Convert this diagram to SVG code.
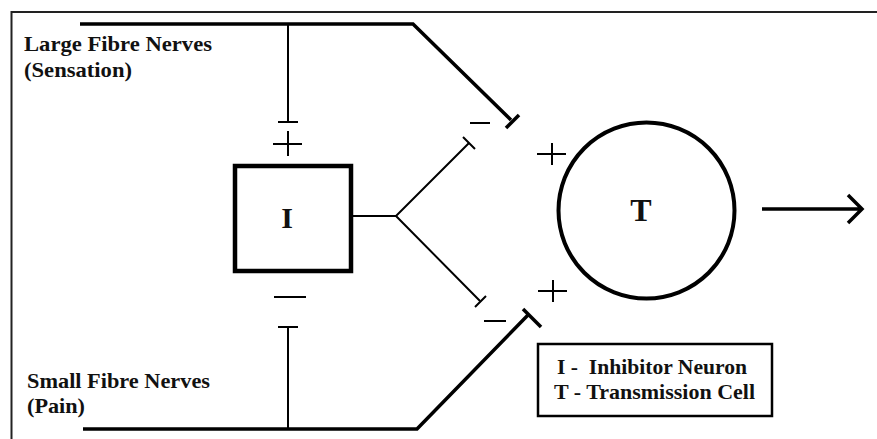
<svg xmlns="http://www.w3.org/2000/svg" width="877" height="439" viewBox="0 0 877 439">
<style>
.t{font-family:"Liberation Serif","Times New Roman",serif;font-weight:bold;fill:#111}
.thick{stroke:#000;stroke-width:3.5;fill:none;stroke-linecap:butt}
.thin{stroke:#000;stroke-width:2;fill:none}
.sign{stroke:#000;stroke-width:2;fill:none}
</style>
<rect width="877" height="439" fill="#fff"/>
<path d="M11.5 439 V12 H877" stroke="#222" stroke-width="2" fill="none"/>
<g id="labels">
<text class="t" x="24" y="51" font-size="22" textLength="188" lengthAdjust="spacingAndGlyphs">Large Fibre Nerves</text>
<text class="t" x="24" y="77" font-size="22" textLength="108" lengthAdjust="spacingAndGlyphs">(Sensation)</text>
<text class="t" x="27" y="388" font-size="22" textLength="183" lengthAdjust="spacingAndGlyphs">Small Fibre Nerves</text>
<text class="t" x="27" y="413" font-size="22" textLength="58" lengthAdjust="spacingAndGlyphs">(Pain)</text>
</g>
<g id="connectors">
<path class="thick" d="M80 24 H413 L511 120"/>
<path class="thick" d="M506 128 L519 115"/>
<path class="thin" d="M288 24 V122"/>
<path class="sign" d="M278 122 H298"/>
<path class="thick" d="M83 429 H417 L528 315"/>
<path class="thick" d="M523 309 L541 327"/>
<path class="thin" d="M288 429 V327"/>
<path class="sign" d="M278 327 H298"/>
<path class="thin" d="M352 216 H396 L469 143 M396 216 L480 301"/>
<path class="sign" d="M463 137 L475 149 M475 307 L486 296"/>
<path stroke="#000" stroke-width="3.5" fill="none" d="M762 209 H861 M848 195 L862 209 L848 223"/>
</g>
<g id="signs">
<path class="sign" d="M273 144 H302 M288 131 V156"/>
<path class="sign" d="M274 297 H306"/>
<path class="sign" d="M470 123 H490"/>
<path class="sign" d="M484 321 H506"/>
<path class="sign" d="M537 154 H566 M552 143 V165"/>
<path class="sign" d="M538 291 H567 M553 280 V302"/>
</g>
<g id="I">
<rect x="235" y="166" width="116" height="105" fill="none" stroke="#000" stroke-width="4.5"/>
<text class="t" x="287" y="228" font-size="30" text-anchor="middle">I</text>
</g>
<g id="T">
<circle cx="646.5" cy="210.5" r="88" fill="none" stroke="#000" stroke-width="4"/>
<text class="t" x="641" y="221" font-size="32" text-anchor="middle">T</text>
</g>
<g id="legend">
<rect x="538" y="344" width="234" height="72" fill="none" stroke="#000" stroke-width="2.5"/>
<text class="t" x="557" y="374" font-size="22" xml:space="preserve" textLength="190" lengthAdjust="spacingAndGlyphs">I -  Inhibitor Neuron</text>
<text class="t" x="554" y="399" font-size="22" textLength="201" lengthAdjust="spacingAndGlyphs">T - Transmission Cell</text>
</g>
</svg>
